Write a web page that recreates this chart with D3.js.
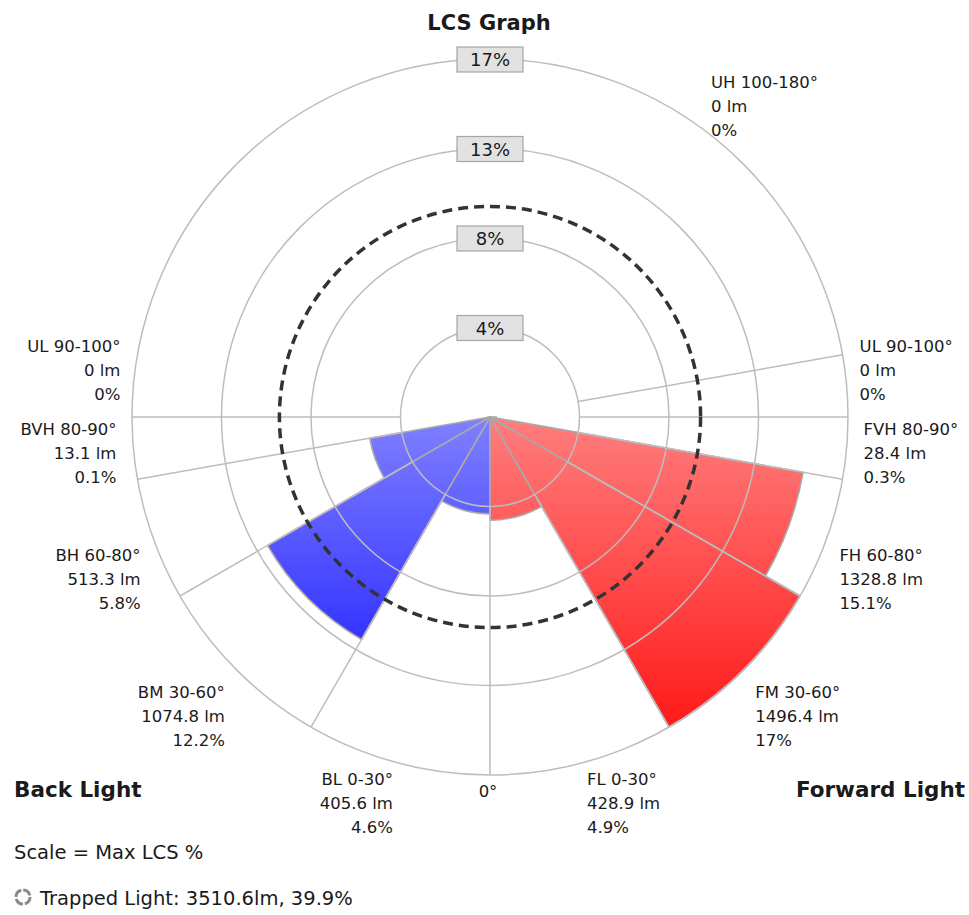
<!DOCTYPE html>
<html><head><meta charset="utf-8">
<script src="https://cdn.jsdelivr.net/npm/d3@7"></script>
<style>
body{margin:0;background:#fff}
svg{display:block}
text{font-family:"DejaVu Sans",Verdana,Tahoma,sans-serif;fill:#1a1a1a}
</style>
</head><body>
<svg id="chart" width="969" height="915"></svg>
<script>
// ---------------- data ----------------
const zoneStarts = [0, 30, 60, 80, 90, 100];
const zoneEnds   = [30, 60, 80, 90, 100, 180];
const forwardNames   = ["FL 0-30°", "FM 30-60°", "FH 60-80°", "FVH 80-90°", "UL 90-100°", "UH 100-180°"];
const forwardLumens  = [428.9, 1496.4, 1328.8, 28.4, 0, 0];
const forwardPercent = [4.9, 17, 15.1, 0.3, 0, 0];
const backNames   = ["BL 0-30°", "BM 30-60°", "BH 60-80°", "BVH 80-90°", "UL 90-100°"];
const backLumens  = [405.6, 1074.8, 513.3, 13.1, 0];
const backPercent = [4.6, 12.2, 5.8, 0.1, 0];
const maxLCS = 17;
const ringValues = [4.25, 8.5, 12.75, 17];
const ringTickLabels = ["4%", "8%", "13%", "17%"];
const thresholdPercent = 10;
const trappedLumens = 3510.6;
const trappedPercent = 39.9;

// ---------------- layout ----------------
const W = 969, H = 915;
const cx = 490, cy = 417, R = 358;
const labelR = 375, lineH = 24;
const labelNudgeY = [0, 10, 10, 3, -14, 0];
const labelNudgeX = [0, 0, -3, 0, -4, -20];

const svg = d3.select("#chart");
const rScale = d3.scaleLinear().domain([0, maxLCS]).range([0, R]);
const rad = d => d * Math.PI / 180;
// side: +1 forward (right), -1 back (left); angle measured from nadir
const d3Angle = (deg, side) => side > 0 ? Math.PI - rad(deg) : Math.PI + rad(deg);
const polar = (deg, r, side) => [cx + side * r * Math.sin(rad(deg)), cy + r * Math.cos(rad(deg))];

// gradients (in the bar group's local coordinates, centred on the pole)
const defs = svg.append("defs");
function grad(id, c0, c1) {
  const gr = defs.append("linearGradient").attr("id", id)
    .attr("gradientUnits", "userSpaceOnUse")
    .attr("x1", 0).attr("y1", 0).attr("x2", 0).attr("y2", R);
  gr.append("stop").attr("offset", 0).attr("stop-color", c0);
  gr.append("stop").attr("offset", 1).attr("stop-color", c1);
}
grad("redG", "#ff7e7e", "#ff0a0a");
grad("blueG", "#8080ff", "#0606ff");

const arc = d3.arc().innerRadius(0);
function sideData(names, lumens, pct, side) {
  return names.map((n, i) => ({name: n, lm: lumens[i], pct: pct[i], a0: zoneStarts[i], a1: zoneEnds[i], side, i}));
}
const fwd = sideData(forwardNames, forwardLumens, forwardPercent, 1);
const back = sideData(backNames, backLumens, backPercent, -1);

// bars
const barG = svg.append("g").attr("transform", `translate(${cx},${cy})`);
function drawBars(data, fill) {
  barG.selectAll(null).data(data.filter(d => d.pct > 0)).enter().append("path")
    .attr("d", d => {
      const s = d3Angle(d.a0, d.side), e = d3Angle(d.a1, d.side);
      return arc({outerRadius: rScale(d.pct), startAngle: Math.min(s, e), endAngle: Math.max(s, e)});
    })
    .attr("fill", fill).attr("stroke", "#a9a9a9").attr("stroke-width", 1.6)
    .attr("stroke-linejoin", "round");
}
drawBars(back, "url(#blueG)");
drawBars(fwd, "url(#redG)");

// grid on top
const gridG = svg.append("g");
gridG.selectAll("circle").data(ringValues).enter().append("circle")
  .attr("cx", cx).attr("cy", cy).attr("r", d => rScale(d))
  .attr("fill", "none").attr("stroke", "#bdbdbd").attr("stroke-width", 1.5);
const radialLines = [];
zoneStarts.forEach(a => radialLines.push({a, side: 1}));
zoneStarts.slice(0, backNames.length).filter(a => a > 0).forEach(a => radialLines.push({a, side: -1}));
gridG.selectAll("line").data(radialLines).enter().append("line")
  .attr("x1", d => polar(d.a, rScale(ringValues[0]), d.side)[0])
  .attr("y1", d => polar(d.a, rScale(ringValues[0]), d.side)[1])
  .attr("x2", d => polar(d.a, R, d.side)[0])
  .attr("y2", d => polar(d.a, R, d.side)[1])
  .attr("stroke", "#bdbdbd").attr("stroke-width", 1.5);

// threshold dashed circle
svg.append("circle").attr("cx", cx).attr("cy", cy).attr("r", rScale(thresholdPercent))
  .attr("fill", "none").attr("stroke", "#333").attr("stroke-width", 3.5)
  .attr("stroke-dasharray", "10,6");

// ring labels
const ringLab = svg.append("g").selectAll("g").data(ringValues).enter().append("g")
  .attr("transform", d => `translate(${cx},${cy - rScale(d)})`);
ringLab.append("rect").attr("x", -33).attr("y", -12).attr("width", 66).attr("height", 25)
  .attr("fill", "#e2e2e2").attr("stroke", "#a6a6a6").attr("stroke-width", 1.2);
ringLab.append("text").attr("text-anchor", "middle").attr("y", 7)
  .style("font-size", "18px").text((d, i) => ringTickLabels[i]);

// zone labels
function drawLabels(data) {
  data.forEach(d => {
    const mid = (d.a0 + d.a1) / 2;
    const p = polar(mid, labelR, d.side);
    const align = mid < 80 ? 0 : (mid <= 100 ? 1 : 2);
    const x = p[0] + d.side * labelNudgeX[d.i];
    const firstCenter = p[1] - align * lineH + labelNudgeY[d.i];
    const lines = [d.name, `${d.lm} lm`, `${d.pct}%`];
    const t = svg.append("text")
      .attr("text-anchor", d.side > 0 ? "start" : "end")
      .style("font-size", "16.5px");
    lines.forEach((s, k) => {
      t.append("tspan").attr("x", x).attr("y", firstCenter + k * lineH + 6).text(s);
    });
  });
}
drawLabels(fwd);
drawLabels(back);

// 0° label
svg.append("text").attr("x", cx - 2).attr("y", cy + R + 22).attr("text-anchor", "middle")
  .style("font-size", "16.5px").text("0°");

// titles
svg.append("text").attr("x", cx - 1).attr("y", 30).attr("text-anchor", "middle")
  .style("font-size", "21px").style("font-weight", "bold").text("LCS Graph");
svg.append("text").attr("x", 14).attr("y", 797)
  .style("font-size", "21.5px").style("font-weight", "bold").text("Back Light");
svg.append("text").attr("x", 965).attr("y", 797).attr("text-anchor", "end")
  .style("font-size", "21.5px").style("font-weight", "bold").text("Forward Light");

// footer
svg.append("text").attr("x", 14).attr("y", 859).style("font-size", "19.5px").text("Scale = Max LCS %");
svg.append("circle").attr("cx", 23).attr("cy", 897).attr("r", 7)
  .attr("fill", "none").attr("stroke", "#8a8a8a").attr("stroke-width", 3)
  .attr("stroke-dasharray", "9,2");
svg.append("text").attr("x", 40).attr("y", 905).style("font-size", "19.5px")
  .text(`Trapped Light: ${trappedLumens}lm, ${trappedPercent}%`);
</script>
</body></html>
